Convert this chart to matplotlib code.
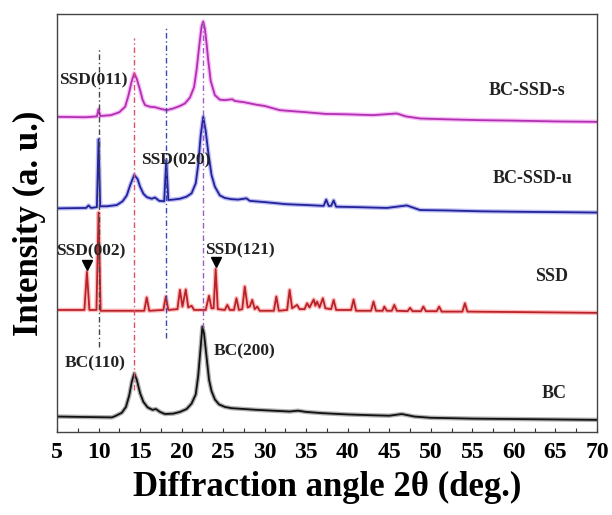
import matplotlib
matplotlib.use("Agg")
import matplotlib.pyplot as plt
from matplotlib.ticker import MultipleLocator

# ---- data (2theta in deg, intensity in a.u. incl. offset) ----
bc_x = [5, 8, 11.6, 12.0, 12.8, 13.3, 13.7, 14.0, 14.3, 14.6, 15.0, 15.4, 15.9, 16.5, 16.9,
        17.4, 18.0, 19.0, 19.8, 20.6, 21.2, 21.7, 22.0, 22.3, 22.5, 22.7, 23.0, 23.3, 23.6,
        24.0, 24.5, 25.2, 26.0, 27.5, 29, 31, 33, 34, 35, 37, 40, 43, 45, 46.5, 48, 50, 55,
        60, 65, 70]
bc_y = [3.7, 3.6, 3.5, 3.8, 4.6, 6.0, 8.8, 12.0, 14.0, 12.5, 9.3, 7.2, 5.9, 5.3, 5.5,
        4.8, 4.3, 4.4, 4.8, 5.5, 6.8, 9.0, 13.5, 20.5, 25.2, 23.5, 18.0, 12.5, 9.8,
        7.8, 6.6, 6.0, 5.7, 5.5, 5.3, 5.1, 4.9, 5.1, 4.8, 4.5, 4.2, 4.0, 3.9, 4.3, 3.7, 3.4, 3.2,
        3.1, 3.0, 2.9]

ssd_x = [5.0, 8.3, 8.6, 8.9, 9.75, 10.0, 10.25, 12.0, 15.5, 15.8, 16.1, 17.8, 18.1, 18.4,
         19.5, 19.8, 20.1, 20.5, 20.8, 21.2, 21.5, 22.9, 23.3, 23.6, 23.85, 24.1, 24.35,
         25.2, 25.5, 25.8, 26.3, 26.6, 26.9, 27.3, 27.6, 27.95, 28.2, 28.5, 28.8, 29.1, 29.4,
         31.1, 31.4, 31.7, 32.7, 33.0, 33.3, 33.9, 34.2, 34.8, 35.1, 35.4, 35.9, 36.1, 36.3,
         36.6, 37.0, 37.3, 38.0, 38.3, 38.6, 40.4, 40.7, 41.0, 42.8, 43.1, 43.4, 44.2, 44.4,
         44.7, 45.3, 45.6, 45.9, 47.2, 47.5, 47.8, 48.8, 49.1, 49.4, 50.7, 51.0, 51.3,
         53.8, 54.1, 54.4, 60, 70]
ssd_y = [29.2, 29.2, 38.3, 29.2, 29.2, 52.5, 29.0, 29.0, 29.0, 32.2, 29.0, 29.2, 32.4, 29.2,
         29.4, 34.0, 30.0, 34.1, 29.8, 30.2, 29.2, 29.2, 32.6, 29.6, 29.6, 39.0, 29.4,
         29.2, 30.4, 29.2, 29.2, 32.0, 29.2, 29.4, 34.8, 29.8, 30.0, 31.6, 29.4, 30.0, 29.0,
         29.0, 32.4, 29.0, 29.2, 34.0, 29.6, 30.4, 29.4, 29.4, 30.8, 29.8, 31.7, 30.2, 31.2,
         29.8, 32.0, 29.6, 29.4, 31.6, 29.2, 29.2, 31.7, 29.0, 29.0, 31.2, 29.0, 29.0, 30.0,
         29.0, 29.0, 30.4, 29.0, 28.9, 29.7, 28.9, 28.9, 30.0, 28.9, 28.9, 30.0, 28.8,
         28.8, 30.8, 28.8, 28.7, 28.5]

u_x = [5, 8.5, 8.8, 9.1, 9.8, 10.0, 10.2, 11.0, 12.2, 12.9, 13.4, 13.8, 14.3, 14.7, 15.0,
       15.4, 15.8, 16.4, 16.8, 17.3, 17.9, 18.15, 18.4, 19.0, 19.8, 20.6, 21.2, 21.7, 22.0,
       22.3, 22.6, 22.9, 23.2, 23.6, 24.0, 24.6, 25.2, 26.0, 26.8, 27.8, 28.2, 30, 32.6, 35,
       37.1, 37.4, 37.7, 38.0, 38.3, 38.6, 41, 44.7, 47.1, 48.7, 52, 56, 60, 65, 70]
u_y = [53.5, 53.6, 54.2, 53.6, 53.8, 70.0, 54.0, 54.0, 54.3, 55.2, 56.6, 59.0, 61.5, 60.5, 58.7,
       57.0, 56.2, 55.8, 56.1, 55.3, 55.2, 65.0, 55.5, 55.6, 55.8, 56.3, 57.1, 59.5, 64.0,
       71.0, 75.4, 72.0, 67.0, 61.5, 58.7, 56.6, 56.0, 55.7, 55.6, 55.9, 55.3, 55.0, 54.5, 54.3,
       54.1, 55.6, 54.1, 54.1, 55.4, 53.9, 53.8, 53.6, 54.2, 53.1, 53.0, 52.8, 52.7, 52.6, 52.5]

s_x = [5, 8.4, 9.8, 10.0, 10.2, 11.5, 12.5, 13.2, 13.6, 14.0, 14.3, 14.6, 15.0, 15.3, 15.6,
       16.2, 16.8, 17.5, 18.2, 19.0, 19.8, 20.4, 21.0, 21.5, 21.8, 22.1, 22.4, 22.6, 22.8,
       23.0, 23.2, 23.5, 24.0, 24.6, 25.2, 26.1, 26.4, 27.5, 29, 30, 31.8, 33, 35, 37.3, 40,
       43, 45.9, 47, 48.7, 52, 56, 59.8, 65, 70]
s_y = [75.4, 75.3, 75.5, 77.2, 75.6, 75.8, 76.5, 77.8, 80.5, 84.0, 85.8, 84.5, 81.8, 79.5, 78.2,
       77.8, 77.7, 77.3, 77.0, 77.4, 78.0, 78.6, 80.0, 82.5, 86.6, 92.0, 97.0, 98.2, 96.5,
       93.0, 89.0, 84.0, 80.6, 79.5, 79.4, 79.6, 79.2, 78.9, 78.3, 78.0, 77.0, 76.8, 76.5, 76.1, 76.0,
       75.8, 76.2, 75.5, 75.0, 74.8, 74.6, 74.5, 74.3, 74.2]

# guide lines: position, y-extent
guide_pos = [10.0, 14.3, 18.15, 22.6]
guide_lo = [20.4, 10.0, 22.4, 25.0]
guide_hi = [91.8, 94.2, 96.6, 98.0]
guide_col = ["#444444", "#e0506a", "#3a4aa8", "#9a60c8"]

# reflections marked with triangles
tri_x = [8.6, 24.1]
tri_y = [40.0, 40.6]

peak_labels = ["SSD(011)", "SSD(020)", "SSD(002)", "SSD(121)", "BC(110)", "BC(200)"]
peak_lab_x = [9.4, 19.3, 9.1, 27.0, 9.6, 27.6]
peak_lab_y = [84.2, 65.0, 43.1, 43.5, 16.5, 19.2]

names = ["BC-SSD-s", "BC-SSD-u", "SSD", "BC"]
name_x = [61.6, 62.2, 64.5, 64.9]
name_y = [81.8, 60.7, 37.2, 9.3]

plt.rcParams["font.family"] = ["Liberation Serif", "DejaVu Serif"]
plt.rcParams["font.weight"] = "bold"

fig = plt.figure(figsize=(6.12, 5.15), dpi=100)
ax = fig.add_axes([57 / 612, 83 / 515, 540 / 612, 418 / 515])

# curves: soft coloured halo + darker core
curves = [
    (bc_x, bc_y, "#555555", "#111111"),
    (ssd_x, ssd_y, "#ff6b6b", "#b8222a"),
    (u_x, u_y, "#6f6fe8", "#22229a"),
    (s_x, s_y, "#f070f0", "#b030b0"),
]
for xs, ys, halo, core in curves:
    ax.plot(xs, ys, color=halo, lw=3.2, alpha=0.45, solid_joinstyle="round")
    ax.plot(xs, ys, color=core, lw=1.3, solid_joinstyle="round")

for p, lo, hi, c in zip(guide_pos, guide_lo, guide_hi, guide_col):
    ax.plot([p, p], [lo, hi], color=c, lw=1.0, ls=(0, (4, 2, 1, 2)))

ax.plot(tri_x, tri_y, ls="none", marker="v", color="black", ms=7)

for t, x, y in zip(peak_labels, peak_lab_x, peak_lab_y):
    ax.text(x, y, t, ha="center", va="center", fontsize=12.5, fontweight="bold", color="#222222")
for t, x, y in zip(names, name_x, name_y):
    ax.text(x, y, t, ha="center", va="center", fontsize=13, fontweight="bold", color="#222222")

ax.set_xlim(5, 70)
ax.set_ylim(0, 100)
ax.xaxis.set_major_locator(MultipleLocator(5))
ax.xaxis.set_minor_locator(MultipleLocator(2.5))
ax.tick_params(axis="x", which="both", direction="in", length=3, width=0.8,
               labelsize=17, pad=7, colors="#333333", labelcolor="black")
ax.set_yticks([])
for sp in ax.spines.values():
    sp.set_color("#444444")
    sp.set_linewidth(1.0)

ax.set_xlabel("Diffraction angle 2θ (deg.)", fontsize=25, fontweight="bold", labelpad=6)
ax.set_ylabel("Intensity (a. u.)", fontsize=25, fontweight="bold", labelpad=8)

fig.savefig("out.png", dpi=100)
